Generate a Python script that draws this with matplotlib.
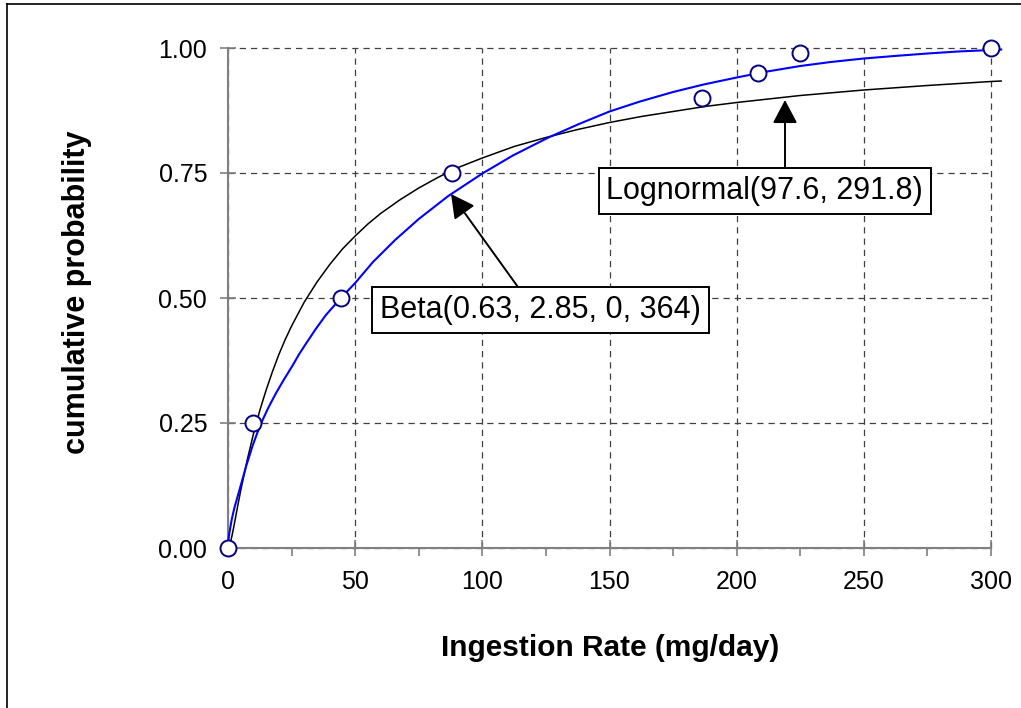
import matplotlib
matplotlib.use('Agg')
import matplotlib.pyplot as plt
from matplotlib.lines import Line2D

plt.rcParams['font.family'] = ['Liberation Sans', 'DejaVu Sans']

# observed percentiles (open circles)
obs_x = [0, 10, 44.5, 88, 186.5, 208.5, 225, 300]
obs_p = [0, 0.25, 0.50, 0.75, 0.90, 0.95, 0.99, 1.00]

# Lognormal(97.6, 291.8) curve
logn_x = [0, 0.5, 1, 1.5, 2, 3, 4, 5, 7.5, 10, 12.5, 15, 17.5, 20, 22.5, 25,
          30, 35, 40, 45, 50, 55, 60, 67.5, 75, 82.5, 90, 100, 112.5, 125,
          137.5, 150, 162.5, 175, 187.5, 200, 225, 250, 275, 300, 304]
logn_p = [0, 0.003, 0.012, 0.023, 0.035, 0.062, 0.089, 0.115, 0.175, 0.228,
          0.275, 0.316, 0.353, 0.387, 0.417, 0.444, 0.492, 0.532, 0.567,
          0.598, 0.624, 0.648, 0.669, 0.696, 0.720, 0.741, 0.760, 0.780,
          0.803, 0.821, 0.837, 0.851, 0.863, 0.873, 0.883, 0.891, 0.905,
          0.916, 0.925, 0.933, 0.934]

# Beta(0.63, 2.85, 0, 364) curve
beta_x = [0, 0.3, 0.8, 1.5, 2.5, 3.5, 4.5, 6, 7.1, 9.7, 11.5, 13.6, 16, 18.9,
          22, 25.4, 28, 30.7, 34.5, 38.5, 44.4, 50, 57, 65.7, 75, 86.6, 100,
          112, 126, 138, 150, 162, 175, 187, 200, 212, 225, 237, 250, 262,
          275, 287, 300, 304]
beta_p = [0, 0.022, 0.038, 0.058, 0.080, 0.098, 0.116, 0.143, 0.163, 0.205,
          0.230, 0.256, 0.282, 0.310, 0.337, 0.365, 0.388, 0.409, 0.438,
          0.466, 0.500, 0.530, 0.572, 0.616, 0.658, 0.704, 0.749, 0.785,
          0.821, 0.848, 0.873, 0.893, 0.912, 0.927, 0.941, 0.953, 0.964,
          0.972, 0.979, 0.984, 0.989, 0.993, 0.996, 0.997]

xticks = [0, 50, 100, 150, 200, 250, 300]
yticks = [0, 0.25, 0.50, 0.75, 1.00]
ytick_labels = ['0.00', '0.25', '0.50', '0.75', '1.00']

W, H = 1021, 708
fig = plt.figure(figsize=(W / 100, H / 100), dpi=100, facecolor='white')
ax = fig.add_axes([228 / W, 1 - 548 / H, (991 - 228) / W, 500 / H])

ax.plot(logn_x, logn_p, color='black', lw=1.1, clip_on=False, zorder=3)
ax.plot(beta_x, beta_p, color='#0000ff', lw=1.5, clip_on=False, zorder=4)
ax.plot(obs_x, obs_p, 'o', ms=11.5, mfc='white', mec='#000080', mew=1.4,
        clip_on=False, zorder=5)

ax.set_xlim(0, 300)
ax.set_ylim(0, 1)
ax.set_xticks(xticks)
ax.set_xticks(range(25, 300, 50), minor=True)
ax.set_yticks(yticks)
ax.set_yticklabels(ytick_labels)

ax.set_axisbelow(True)
ax.grid(True, which='major', color='#404040', linestyle=(0, (5, 4)), lw=0.9)
for l in ax.get_xgridlines() + ax.get_ygridlines():
    l.set_clip_on(False)
for s in ['top', 'right']:
    ax.spines[s].set_visible(False)
for s in ['left', 'bottom']:
    ax.spines[s].set_color('#808080')
    ax.spines[s].set_linewidth(1.5)
ax.tick_params(which='major', direction='inout', length=12, width=1.2,
               color='#808080', labelsize=18)
ax.tick_params(axis='y', which='major', pad=9)
ax.tick_params(axis='x', which='major', pad=10)
ax.tick_params(which='minor', direction='out', length=6, width=1.2,
               color='#808080')

# annotations
arrow = dict(arrowstyle='-|>,head_length=0.72,head_width=0.38',
             mutation_scale=20, lw=1.4, color='black', shrinkA=0, shrinkB=0)
box = dict(boxstyle='square,pad=0.25', fc='white', ec='black', lw=1.4)
ax.annotate('', xy=(219, 0.896), xytext=(219, 0.76), arrowprops=arrow, zorder=6)
ax.text(211, 0.714, 'Lognormal(97.6, 291.8)', ha='center', va='center',
        fontsize=22, bbox=box, zorder=7)
ax.annotate('', xy=(87.7, 0.708), xytext=(114.0, 0.522), arrowprops=arrow, zorder=6)
ax.text(122.9, 0.476, 'Beta(0.63, 2.85, 0, 364)', ha='center', va='center',
        fontsize=22, bbox=box, zorder=7)

fig.text(610 / W, 1 - 648 / H, 'Ingestion Rate (mg/day)', ha='center',
         va='center', fontsize=21.5, fontweight='bold')
fig.text(77 / W, 1 - 292 / H, 'cumulative probability', ha='center',
         va='center', rotation=90, fontsize=22, fontweight='bold')

# outer frame (top and left edges visible)
fig.add_artist(Line2D([7 / W, 1], [1 - 4 / H, 1 - 4 / H], color='black', lw=1.2))
fig.add_artist(Line2D([7 / W, 7 / W], [0, 1 - 4 / H], color='black', lw=1.2))

fig.savefig('out.png', dpi=100)
